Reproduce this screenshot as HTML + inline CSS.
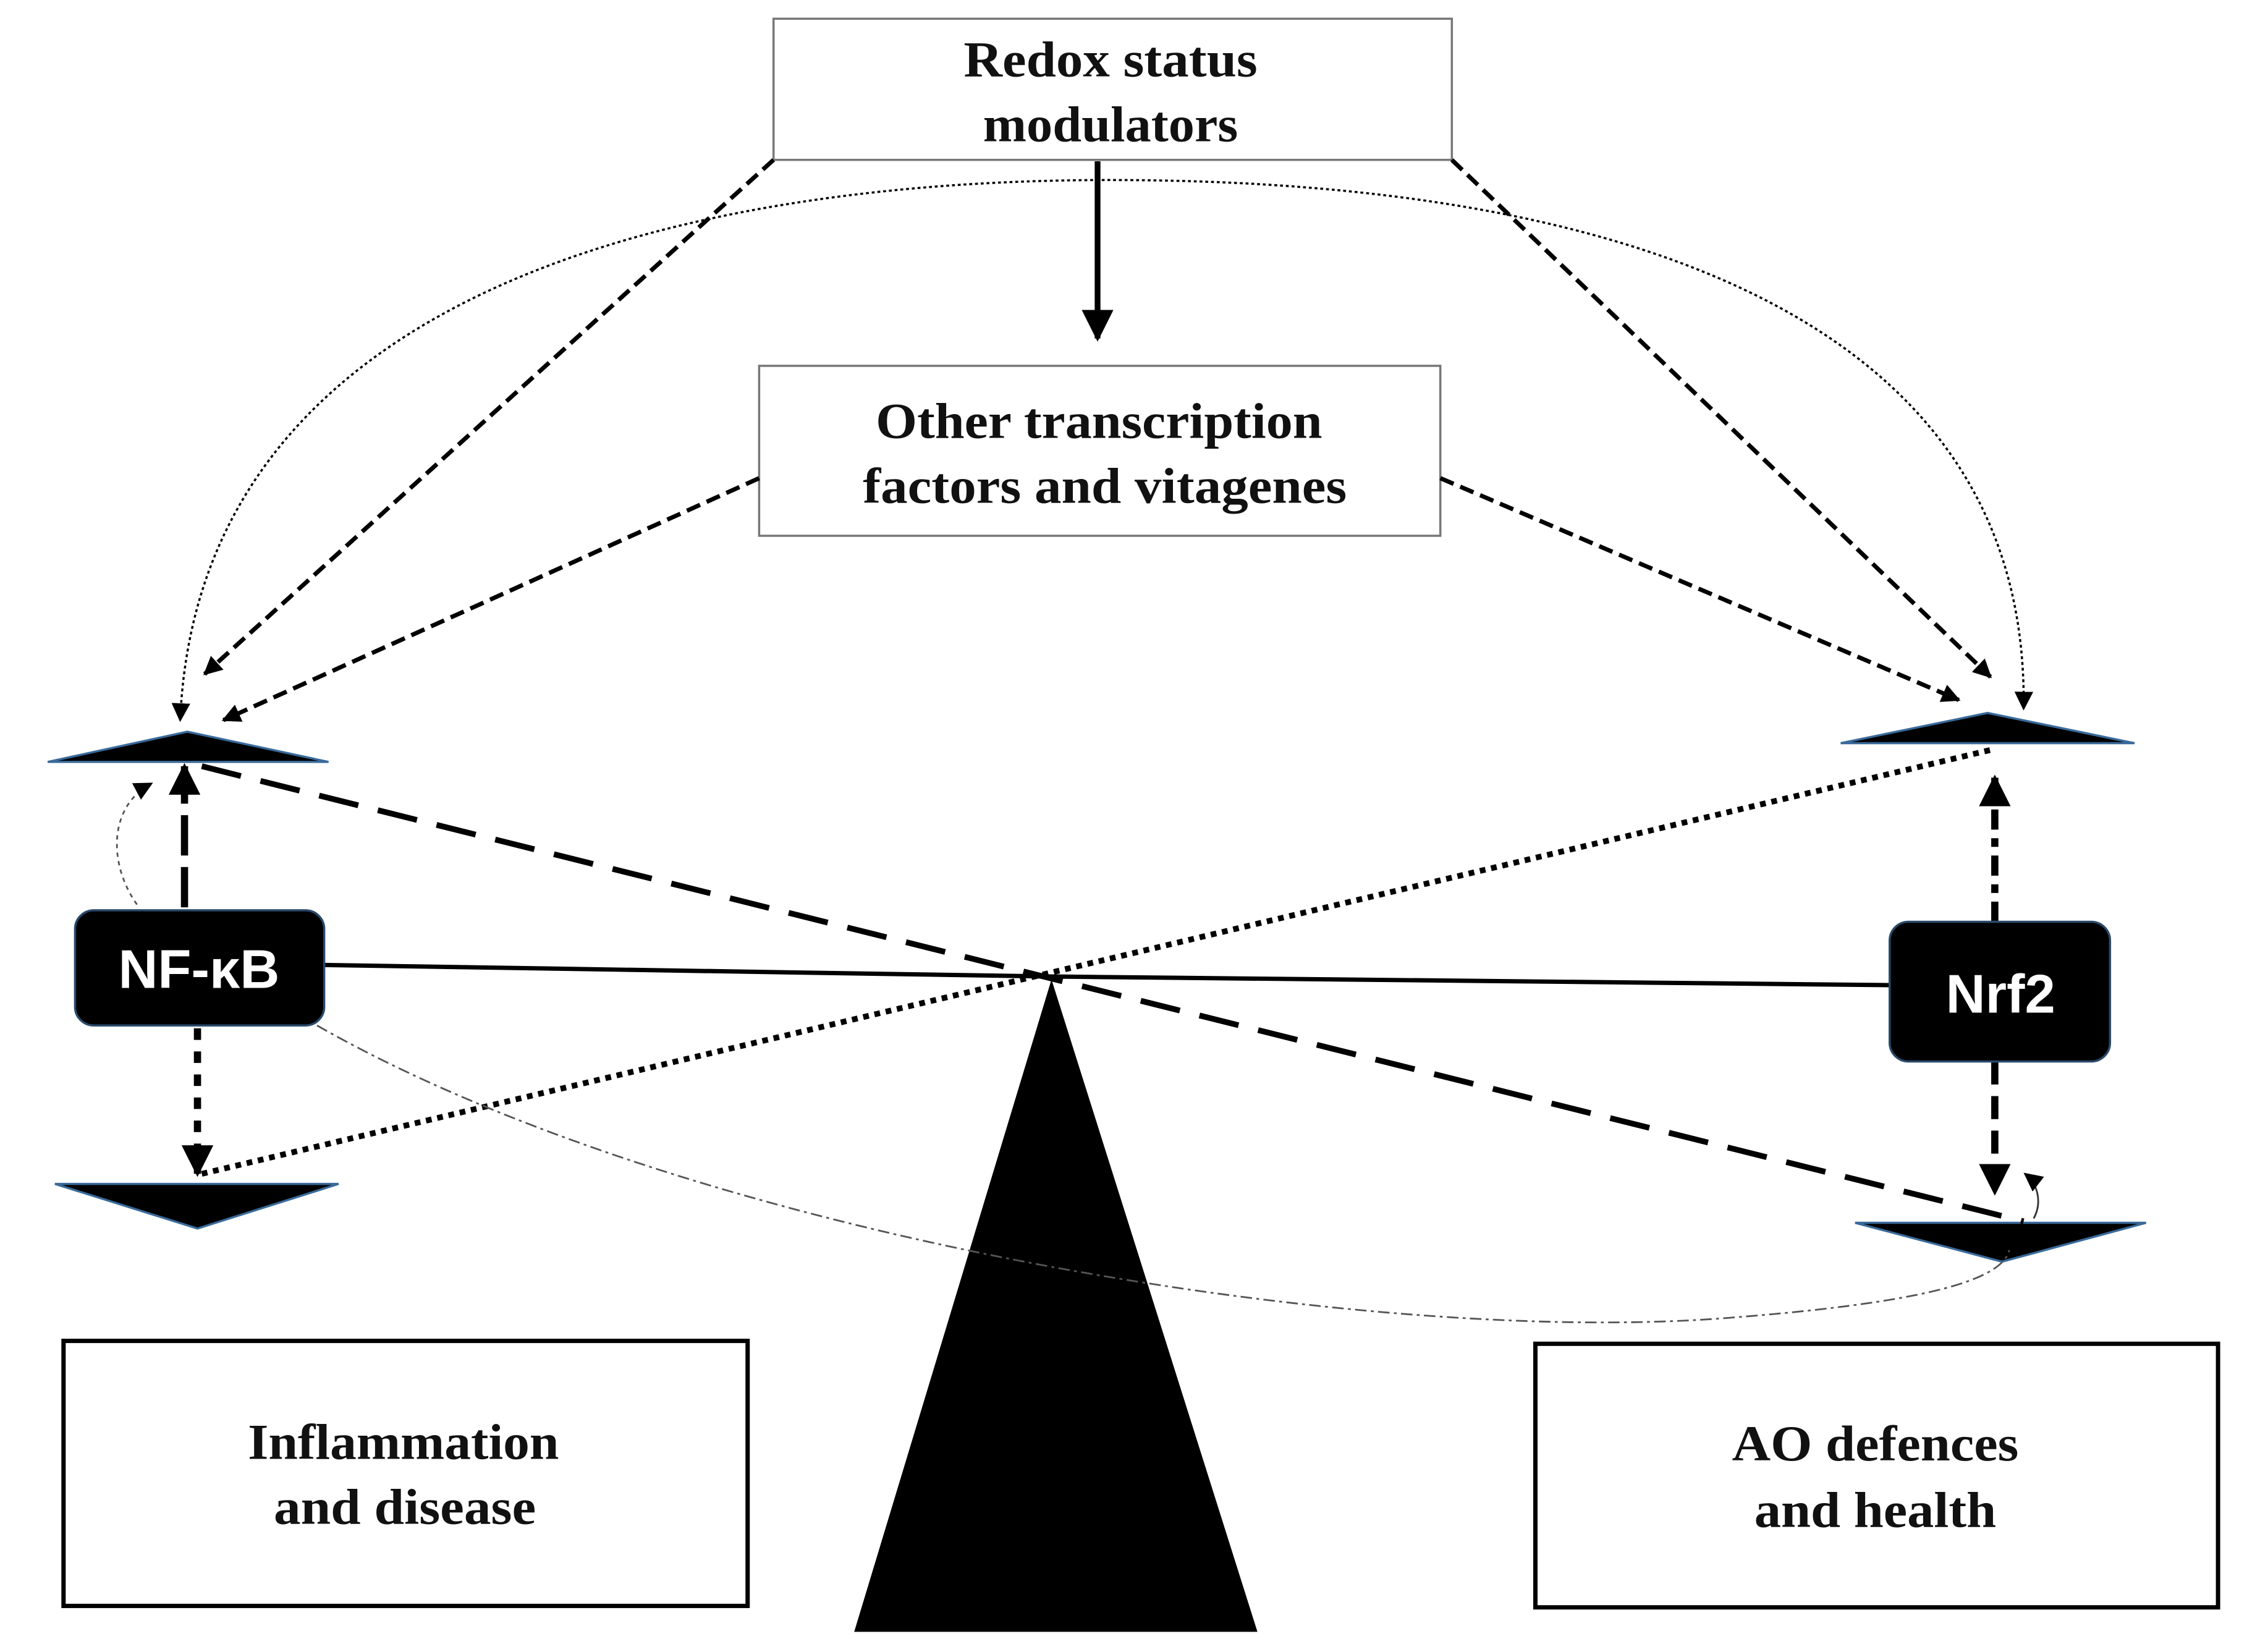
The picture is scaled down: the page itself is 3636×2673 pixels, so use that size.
<!DOCTYPE html>
<html><head><meta charset="utf-8"><style>
html,body{margin:0;padding:0;background:#fff;}
svg{display:block;}
.t{font-family:"Liberation Serif",serif;font-weight:bold;font-size:35px;fill:#111;text-anchor:middle;}
.w{font-family:"Liberation Sans",sans-serif;font-weight:bold;font-size:38px;fill:#fff;text-anchor:middle;}
</style></head><body>
<svg width="3636" height="2673" viewBox="0 0 1560 1147" xmlns="http://www.w3.org/2000/svg">
<defs>
<marker id="b" viewBox="0 0 10 10" refX="9" refY="5" markerWidth="22" markerHeight="22" orient="auto" markerUnits="userSpaceOnUse">
<path d="M0,0 L10,5 L0,10 z" fill="#000"/></marker>
<marker id="c" viewBox="0 0 10 10" refX="9" refY="5" markerWidth="13" markerHeight="13" orient="auto" markerUnits="userSpaceOnUse">
<path d="M0,0 L10,5 L0,10 z" fill="#000"/></marker>
<marker id="cs" viewBox="0 0 10 10" refX="9" refY="5" markerWidth="13" markerHeight="13" orient="auto-start-reverse" markerUnits="userSpaceOnUse">
<path d="M0,0 L10,5 L0,10 z" fill="#000"/></marker>
</defs>
<rect width="1560" height="1147" fill="#fff"/>
<rect x="537" y="13" width="471" height="98" fill="#fff" stroke="#777" stroke-width="1.5"/>
<text class="t" x="771" y="53" textLength="204" lengthAdjust="spacingAndGlyphs">Redox status</text>
<text class="t" x="771" y="98" textLength="177" lengthAdjust="spacingAndGlyphs">modulators</text>
<line x1="762" y1="112" x2="762" y2="235" stroke="#000" stroke-width="4" marker-end="url(#b)"/>
<rect x="527" y="254" width="473" height="118" fill="#fff" stroke="#777" stroke-width="1.5"/>
<text class="t" x="763" y="304" textLength="310" lengthAdjust="spacingAndGlyphs">Other transcription</text>
<text class="t" x="767" y="349" textLength="336" lengthAdjust="spacingAndGlyphs">factors and vitagenes</text>
<path d="M125,500 C140,150 600,125 770,125 C960,125 1410,150 1405,492" fill="none" stroke="#000" stroke-width="1.5" stroke-dasharray="2,2" marker-start="url(#cs)" marker-end="url(#c)"/>
<line x1="537" y1="111" x2="142" y2="468" stroke="#000" stroke-width="3" stroke-dasharray="10,5" marker-end="url(#c)"/>
<line x1="1008" y1="111" x2="1382" y2="470" stroke="#000" stroke-width="3" stroke-dasharray="10,5" marker-end="url(#c)"/>
<line x1="527" y1="332" x2="155" y2="500" stroke="#000" stroke-width="3" stroke-dasharray="10,5" marker-end="url(#c)"/>
<line x1="1000" y1="332" x2="1360" y2="486" stroke="#000" stroke-width="3" stroke-dasharray="10,5" marker-end="url(#c)"/>
<polygon points="33,529 130,508 228,529" fill="#000" stroke="#3a6a9a" stroke-width="1.5"/>
<polygon points="1278,516 1380,495 1482,516" fill="#000" stroke="#3a6a9a" stroke-width="1.5"/>
<polygon points="38,822 235,822 137,853" fill="#000" stroke="#3a6a9a" stroke-width="1.5"/>
<polygon points="1288,849 1490,849 1390,876" fill="#000" stroke="#3a6a9a" stroke-width="1.5"/>
<polyline points="225,670 730,678 1312,684" fill="none" stroke="#000" stroke-width="3"/>
<line x1="140" y1="532" x2="1405" y2="848" stroke="#000" stroke-width="4" stroke-dasharray="28,14"/>
<line x1="140" y1="815" x2="1385" y2="520" stroke="#000" stroke-width="4" stroke-dasharray="4,4"/>
<polygon points="730,680 593,1133 873,1133" fill="#000"/>
<line x1="128" y1="630" x2="128" y2="532" stroke="#000" stroke-width="5" stroke-dasharray="28,8" marker-end="url(#b)"/>
<line x1="137" y1="714" x2="137" y2="815" stroke="#000" stroke-width="5" stroke-dasharray="8,8" marker-end="url(#b)"/>
<line x1="1385" y1="640" x2="1385" y2="540" stroke="#000" stroke-width="5" stroke-dasharray="14,6,6,6" marker-end="url(#b)"/>
<line x1="1385" y1="737" x2="1385" y2="828" stroke="#000" stroke-width="5" stroke-dasharray="16,8" marker-end="url(#b)"/>
<path d="M95,628 C75,600 75,560 105,544" fill="none" stroke="#555" stroke-width="1.2" stroke-dasharray="3,3" marker-end="url(#c)"/>
<path d="M1412,846 C1418,835 1415,822 1406,815" fill="none" stroke="#333" stroke-width="1.2" marker-end="url(#c)"/>
<path d="M220,712 C480,860 950,935 1200,915 C1330,905 1390,890 1395,868" fill="none" stroke="#555" stroke-width="1.2" stroke-dasharray="8,3,2,3"/>
<rect x="52" y="632" width="173" height="80" rx="13" fill="#000" stroke="#2a4a6a" stroke-width="1.5"/>
<text class="w" x="138" y="686">NF-κB</text>
<rect x="1312" y="640" width="153" height="97" rx="13" fill="#000" stroke="#2a4a6a" stroke-width="1.5"/>
<text class="w" x="1389" y="703">Nrf2</text>
<rect x="44" y="931" width="475" height="184" fill="#fff" stroke="#000" stroke-width="3"/>
<text class="t" x="280" y="1013" textLength="216" lengthAdjust="spacingAndGlyphs">Inflammation</text>
<text class="t" x="281" y="1058" textLength="182" lengthAdjust="spacingAndGlyphs">and disease</text>
<rect x="1066" y="933" width="474" height="183" fill="#fff" stroke="#000" stroke-width="3"/>
<text class="t" x="1302" y="1014" textLength="199" lengthAdjust="spacingAndGlyphs">AO defences</text>
<text class="t" x="1302" y="1060" textLength="168" lengthAdjust="spacingAndGlyphs">and health</text>
</svg>
</body></html>
